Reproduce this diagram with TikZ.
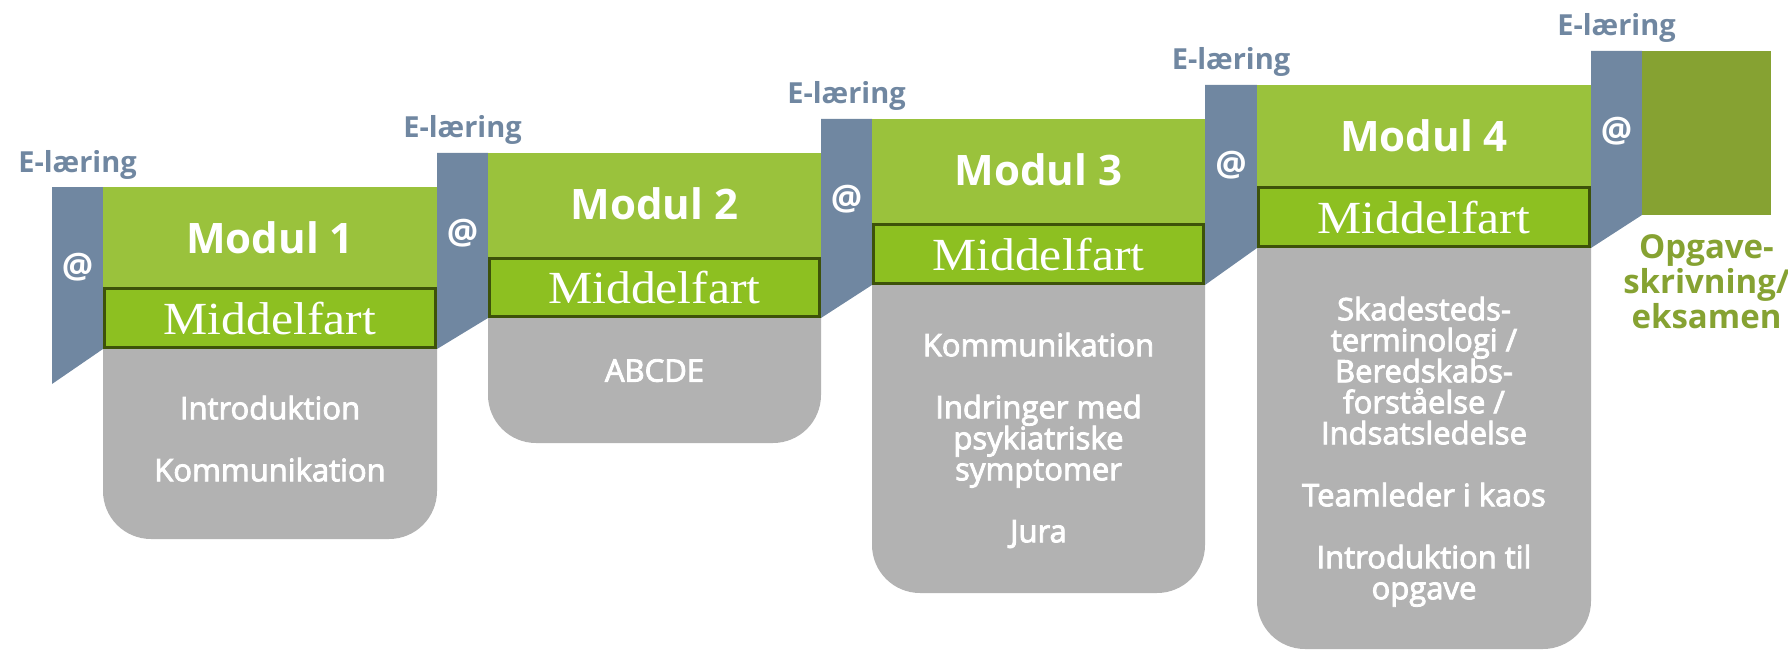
\documentclass[tikz,border=0pt]{standalone}
\usepackage{fontspec}
\setmainfont{Open Sans}
\newfontfamily\placefont[FakeStretch=1.08]{Liberation Serif}
\newfontfamily\topicfont[FakeBold=2.8]{Open Sans}
\definecolor{modgreen}{HTML}{9AC23C}
\definecolor{placegreen}{HTML}{8DC021}
\definecolor{placeline}{HTML}{3D5209}
\definecolor{stripblue}{HTML}{7087A1}
\definecolor{topicgray}{HTML}{B2B2B2}
\definecolor{olive}{HTML}{86A232}

\begin{document}
\begin{tikzpicture}[x=1pt,y=-1pt,
    stripfill/.style={fill=stripblue},
    modfill/.style={fill=modgreen},
    topicfill/.style={fill=topicgray, rounded corners=48pt},
    placebox/.style={draw=placeline, fill=placegreen, line width=3pt, minimum width=331pt,
      minimum height=59pt, inner sep=0pt, text=white, text depth=0pt,
      font=\placefont\fontsize{46}{46}\selectfont},
    modtitle/.style={anchor=base, inner sep=0pt, text=white, font=\fontsize{42}{42}\selectfont\bfseries},
    topics/.style={anchor=north, inner sep=0pt, align=center, text=white,
      font=\topicfont\fontsize{31}{31}\selectfont},
    elearn/.style={anchor=base, inner sep=0pt, text=stripblue, font=\fontsize{29}{29}\selectfont\bfseries},
    atsign/.style={inner sep=0pt, text=white, font=\fontsize{35}{35}\selectfont\bfseries},
    finaltext/.style={anchor=north, inner sep=0pt, align=center, text=olive,
      font=\fontsize{33}{35}\selectfont\bfseries}]
  \useasboundingbox (0,0) rectangle (1788,650);

  \fill[stripfill] (52,187) -- (103,187) -- (103,349) -- (52,384) -- cycle;
  \fill[stripfill] (437,153) -- (488,153) -- (488,318) -- (437,349) -- cycle;
  \fill[stripfill] (821,119) -- (872,119) -- (872,285) -- (821,318) -- cycle;
  \fill[stripfill] (1205,85) -- (1257,85) -- (1257,248) -- (1205,285) -- cycle;
  \fill[stripfill] (1591,51) -- (1642,51) -- (1642,215) -- (1591,248) -- cycle;
  \fill[olive] (1642,51) rectangle (1771,215);

  \fill[modfill] (103,187) rectangle (437,290);
  \fill[modfill] (488,153) rectangle (821,260);
  \fill[modfill] (872,119) rectangle (1205,226);
  \fill[modfill] (1257,85) rectangle (1591,189);
  \fill[topicfill] (103,345) -- (103,539) -- (437,539) -- (437,345);
  \fill[topicfill] (488,314) -- (488,443) -- (821,443) -- (821,314);
  \fill[topicfill] (872,281) -- (872,593) -- (1205,593) -- (1205,281);
  \fill[topicfill] (1257,244) -- (1257,649) -- (1591,649) -- (1591,244);

  \node[placebox] (p1) at (270,318) {Middelfart};
  \node[placebox, minimum width=330pt, minimum height=58pt] (p2) at (654.5,287.5) {Middelfart};
  \node[placebox, minimum width=330pt] (p3) at (1038.5,254) {Middelfart};
  \node[placebox] (p4) at (1424,217) {Middelfart};

  \node[modtitle] (m1) at (270,253) {Modul 1};
  \node[modtitle] (m2) at (654.5,219) {Modul 2};
  \node[modtitle] (m3) at (1038.5,185) {Modul 3};
  \node[modtitle] (m4) at (1424,151) {Modul 4};

  \node[topics] (t1) at (270,395.5) {Introduktion\\[31pt]Kommunikation};
  \node[topics] (t2) at (654.5,359) {ABCDE};
  \node[topics] (t3) at (1038.5,332.5) {Kommunikation\\[31pt]Indringer med\\psykiatriske\\symptomer\\[31pt]Jura};
  \node[topics] (t4) at (1424,296.5) {Skadesteds-\\terminologi /\\Beredskabs-\\forståelse /\\Indsatsledelse\\[31pt]Teamleder i kaos\\[31pt]Introduktion til\\opgave};

  \node[elearn] (e1) at (77.5,172) {E-læring};
  \node[elearn] (e2) at (462.5,138) {E-læring};
  \node[elearn] (e3) at (846.5,104) {E-læring};
  \node[elearn] (e4) at (1231,70) {E-læring};
  \node[elearn] (e5) at (1616.5,36) {E-læring};

  \node[atsign] (a1) at (77.5,267) {@};
  \node[atsign] (a2) at (462.5,233) {@};
  \node[atsign] (a3) at (846.5,199) {@};
  \node[atsign] (a4) at (1231,165) {@};
  \node[atsign] (a5) at (1616.5,131) {@};

  \node[finaltext] (fin) at (1706.5,234) {Opgave-\\skrivning/\\eksamen};
\end{tikzpicture}
\end{document}
